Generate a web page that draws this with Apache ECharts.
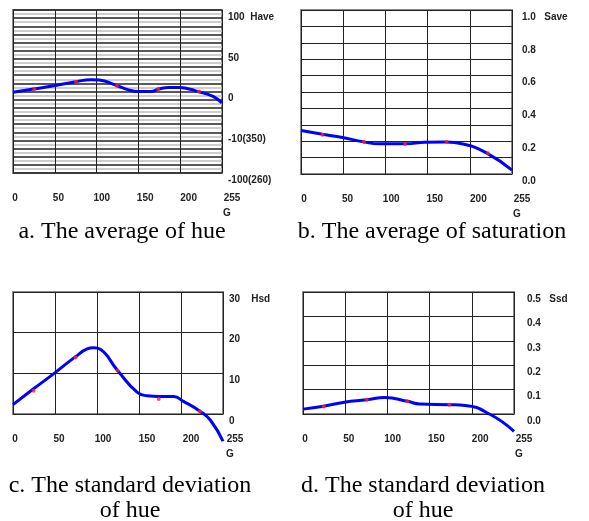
<!DOCTYPE html>
<html>
<head>
<meta charset="utf-8">
<script src="https://cdn.jsdelivr.net/npm/echarts@6/dist/echarts.min.js"></script>
<style>
  html, body { margin: 0; padding: 0; background: #fff; }
  #chart { width: 589px; height: 521px; }
</style>
</head>
<body>
<div id="chart"></div>
<script>
// tick labels under every panel (G = 0..255)
var xTicks = ['0', '50', '100', '150', '200', '255'];

// right hand tick labels, top to bottom
var yTicksA = ['100  Have', '50', '0', '-10(350)', '-100(260)'];
var yTicksB = ['1.0   Save', '0.8', '0.6', '0.4', '0.2', '0.0'];
var yTicksC = ['30    Hsd', '20', '10', '0'];
var yTicksD = ['0.5   Ssd', '0.4', '0.3', '0.2', '0.1', '0.0'];

// a. average of hue
var curveA = [[0, -1], [25, 3], [50, 7], [77, 12], [95, 14.5], [105, 14], [127, 7], [141, 2],
  [152, 0], [168, 0], [178, 3], [190, 5], [203, 5], [215, 3], [227, -0.5], [244, -6], [255, -14]];
var dotsA = [[26, 3], [77, 12], [127, 7], [177, 3], [227, 0]];

// b. average of saturation
var curveB = [[0, 0.265], [26, 0.242], [50, 0.222], [76, 0.196], [94, 0.184], [126, 0.184],
  [150, 0.193], [175, 0.195], [196, 0.183], [225, 0.126], [255, 0.024]];
var dotsB = [[26, 0.24], [76, 0.195], [126, 0.183], [176, 0.195], [226, 0.126]];

// c. standard deviation of hue
var curveC = [[0, 2.3], [25, 6.2], [50, 10], [76, 14.1], [90, 16], [98, 16.3], [106, 15.9],
  [127, 10.7], [151, 5.3], [163, 4.5], [177, 4.3], [195, 4.3], [207, 3.1], [227, 0.7],
  [240, -1.6], [255, -6.7]];
var dotsC = [[25, 5.7], [76, 13.9], [127, 10.7], [177, 3.7], [227, 0.6]];

// d. standard deviation of saturation
var curveD = [[0, 0.02], [25, 0.032], [50, 0.048], [77, 0.058], [99, 0.068], [126, 0.052],
  [141, 0.041], [177, 0.038], [196, 0.035], [227, -0.003], [255, -0.071]];
var dotsD = [[25, 0.031], [77, 0.058], [126, 0.052], [177, 0.038], [227, -0.003]];

var captions = ['a. The average of hue', 'b. The average of saturation',
  'c. The standard deviation\nof hue', 'd. The standard deviation\nof hue'];

var panels = [
  { grid: {left: 13, top: 10, width: 209, height: 163}, lab: {left: 15, width: 217},
    min: -100, max: 100, step: 5, labStep: 50, ticks: yTicksA, margin: 6,
    lineColors: ['#222', '#bdbdbd'], lineWidth: 1.5,
    curve: curveA, dots: dotsA, capX: 122, capY: 219 },
  { grid: {left: 301, top: 10, width: 211, height: 164}, lab: {left: 304, width: 218},
    min: 0, max: 1, step: 0.1, labStep: 0.2, ticks: yTicksB, margin: 10,
    curve: curveB, dots: dotsB, capX: 432, capY: 219 },
  { grid: {left: 13, top: 292, width: 210, height: 122}, lab: {left: 15, width: 220},
    min: 0, max: 30, step: 10, labStep: 10, ticks: yTicksC, margin: 6,
    curve: curveC, dots: dotsC, capX: 130, capY: 473 },
  { grid: {left: 303, top: 292, width: 211, height: 122}, lab: {left: 305, width: 219},
    min: 0, max: 0.5, step: 0.1, labStep: 0.1, ticks: yTicksD, margin: 13,
    curve: curveD, dots: dotsD, capX: 423, capY: 473 }
];

var tickFont = {fontFamily: 'Liberation Sans', fontWeight: 'bold', fontSize: 10, color: '#222'};

var grids = [], xAxes = [], yAxes = [], series = [], titles = [];

panels.forEach(function (p, i) {
  grids.push(Object.assign({show: true, borderColor: '#8a8a8a', borderWidth: 2}, p.grid));
  xAxes.push({
    type: 'value', gridIndex: i, min: 0, max: 255, interval: 51,
    axisLine: {show: false}, axisTick: {show: false}, axisLabel: {show: false},
    splitLine: {show: true, lineStyle: {color: '#222', width: 1}}
  });
  yAxes.push({
    type: 'value', gridIndex: i, position: 'right', min: p.min, max: p.max, interval: p.step,
    axisLine: {show: false}, axisTick: {show: false},
    splitLine: {show: true, lineStyle: {color: p.lineColors || '#222', width: p.lineWidth || 1}},
    axisLabel: Object.assign({
      margin: p.margin, verticalAlign: 'top', lineHeight: 14, showMinLabel: true, showMaxLabel: true,
      formatter: function (v) {
        var k = Math.round((p.max - v) / p.labStep);
        return Math.abs(p.max - k * p.labStep - v) < 1e-6 ? p.ticks[k] : '';
      }
    }, tickFont)
  });
  series.push({
    type: 'line', xAxisIndex: i, yAxisIndex: i, data: p.curve, smooth: true,
    showSymbol: false, clip: false, lineStyle: {color: '#0000ff', width: 3}, z: 3
  });
  series.push({
    type: 'scatter', xAxisIndex: i, yAxisIndex: i, data: p.dots, symbolSize: 4,
    itemStyle: {color: '#ff2020'}, z: 4
  });
  titles.push({
    text: captions[i], left: p.capX, top: p.capY, textAlign: 'center', padding: 0,
    textStyle: {fontFamily: 'Liberation Serif', fontWeight: 'normal', fontSize: 24,
      lineHeight: 25, color: '#000'}
  });
});

// second set of grids only for the G tick labels, which sit a bit wider than the grid
panels.forEach(function (p, i) {
  grids.push({left: p.lab.left, width: p.lab.width, top: p.grid.top, height: p.grid.height});
  xAxes.push({
    type: 'category', gridIndex: 4 + i, data: xTicks, boundaryGap: false,
    axisLine: {show: false}, axisTick: {show: false}, splitLine: {show: false},
    axisLabel: Object.assign({margin: 20, interval: 0}, tickFont),
    name: 'G', nameLocation: 'end', nameGap: -5, nameMoveOverlap: false,
    nameTextStyle: Object.assign({align: 'center', verticalAlign: 'top', lineHeight: 80}, tickFont)
  });
  yAxes.push({type: 'value', gridIndex: 4 + i, show: false});
});

var chart = echarts.init(document.getElementById('chart'));
chart.setOption({
  animation: false,
  backgroundColor: '#fff',
  title: titles,
  grid: grids,
  xAxis: xAxes,
  yAxis: yAxes,
  series: series
});
</script>
</body>
</html>
